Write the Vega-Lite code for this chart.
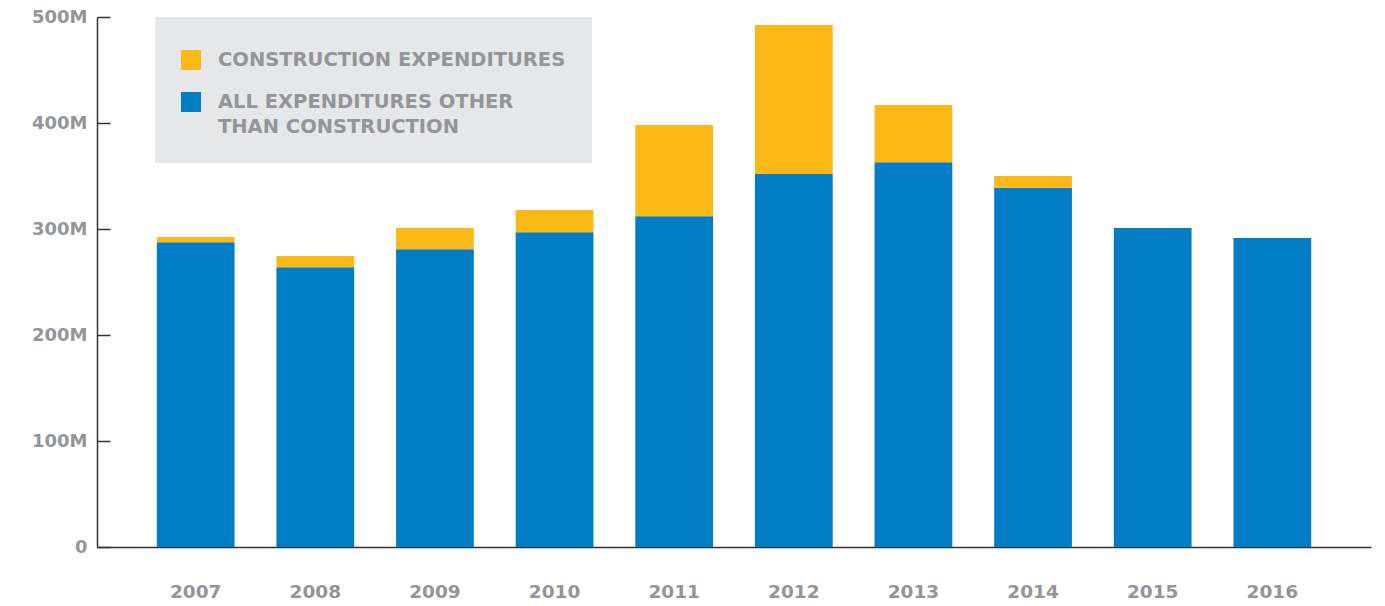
{
  "$schema": "https://vega.github.io/schema/vega-lite/v6.json",
  "width": 1274,
  "height": 530,
  "autosize": {"type": "none"},
  "padding": {"left": 97, "top": 17, "right": 14, "bottom": 59},
  "background": "white",
  "config": {
    "view": {"stroke": null},
    "font": "DejaVu Sans",
    "style": {"guide-label": {"lineHeight": 25}}
  },
  "data": {
    "values": [
      {"year": "2007", "type": "ALL EXPENDITURES OTHER THAN CONSTRUCTION", "value": 287.5},
      {"year": "2007", "type": "CONSTRUCTION EXPENDITURES", "value": 5},
      {"year": "2008", "type": "ALL EXPENDITURES OTHER THAN CONSTRUCTION", "value": 264},
      {"year": "2008", "type": "CONSTRUCTION EXPENDITURES", "value": 10.5},
      {"year": "2009", "type": "ALL EXPENDITURES OTHER THAN CONSTRUCTION", "value": 281},
      {"year": "2009", "type": "CONSTRUCTION EXPENDITURES", "value": 20},
      {"year": "2010", "type": "ALL EXPENDITURES OTHER THAN CONSTRUCTION", "value": 297},
      {"year": "2010", "type": "CONSTRUCTION EXPENDITURES", "value": 21},
      {"year": "2011", "type": "ALL EXPENDITURES OTHER THAN CONSTRUCTION", "value": 312},
      {"year": "2011", "type": "CONSTRUCTION EXPENDITURES", "value": 86},
      {"year": "2012", "type": "ALL EXPENDITURES OTHER THAN CONSTRUCTION", "value": 352},
      {"year": "2012", "type": "CONSTRUCTION EXPENDITURES", "value": 140.5},
      {"year": "2013", "type": "ALL EXPENDITURES OTHER THAN CONSTRUCTION", "value": 363},
      {"year": "2013", "type": "CONSTRUCTION EXPENDITURES", "value": 54},
      {"year": "2014", "type": "ALL EXPENDITURES OTHER THAN CONSTRUCTION", "value": 339},
      {"year": "2014", "type": "CONSTRUCTION EXPENDITURES", "value": 11},
      {"year": "2015", "type": "ALL EXPENDITURES OTHER THAN CONSTRUCTION", "value": 301},
      {"year": "2015", "type": "CONSTRUCTION EXPENDITURES", "value": 0},
      {"year": "2016", "type": "ALL EXPENDITURES OTHER THAN CONSTRUCTION", "value": 291.5},
      {"year": "2016", "type": "CONSTRUCTION EXPENDITURES", "value": 0}
    ]
  },
  "mark": {"type": "bar"},
  "encoding": {
    "x": {
      "field": "year", "type": "ordinal",
      "scale": {"paddingInner": 0.35, "paddingOuter": 0.5},
      "axis": {
        "title": null, "labelAngle": 0, "ticks": false,
        "domainColor": "#333333", "domainWidth": 1.5,
        "labelFont": "DejaVu Sans", "labelFontSize": 18.5, "labelFontWeight": "bold",
        "labelColor": "#939598", "labelPadding": 35
      }
    },
    "y": {
      "field": "value", "type": "quantitative", "stack": "zero",
      "scale": {"domain": [0, 500]},
      "axis": {
        "title": null, "grid": false, "values": [0, 100, 200, 300, 400, 500],
        "labelExpr": "datum.value == 0 ? '0' : datum.value + 'M'",
        "domainColor": "#333333", "domainWidth": 1.5,
        "tickColor": "#333333", "tickWidth": 1.5, "tickSize": -13,
        "labelFont": "DejaVu Sans", "labelFontSize": 18, "labelFontWeight": "bold",
        "labelColor": "#939598", "labelPadding": 23
      }
    },
    "color": {
      "field": "type", "type": "nominal",
      "scale": {
        "domain": ["CONSTRUCTION EXPENDITURES", "ALL EXPENDITURES OTHER THAN CONSTRUCTION"],
        "range": ["#fcb817", "#007dc5"]
      },
      "legend": {
        "title": " ", "titleFontSize": 3, "titlePadding": 4,
        "orient": "none", "legendX": 58, "legendY": 0,
        "fillColor": "#e6e7e8", "padding": 26,
        "symbolType": "square", "symbolSize": 400, "symbolStrokeWidth": 0, "symbolOpacity": 1,
        "labelFont": "DejaVu Sans", "labelFontSize": 19.5, "labelFontWeight": "bold",
        "labelColor": "#939598", "labelOffset": 17, "labelLimit": 500, "rowPadding": 22,
        "labelExpr": "datum.label == 'ALL EXPENDITURES OTHER THAN CONSTRUCTION' ? ['ALL EXPENDITURES OTHER', 'THAN CONSTRUCTION'] : datum.label"
      }
    },
    "order": {"field": "type", "sort": "ascending"}
  }
}
